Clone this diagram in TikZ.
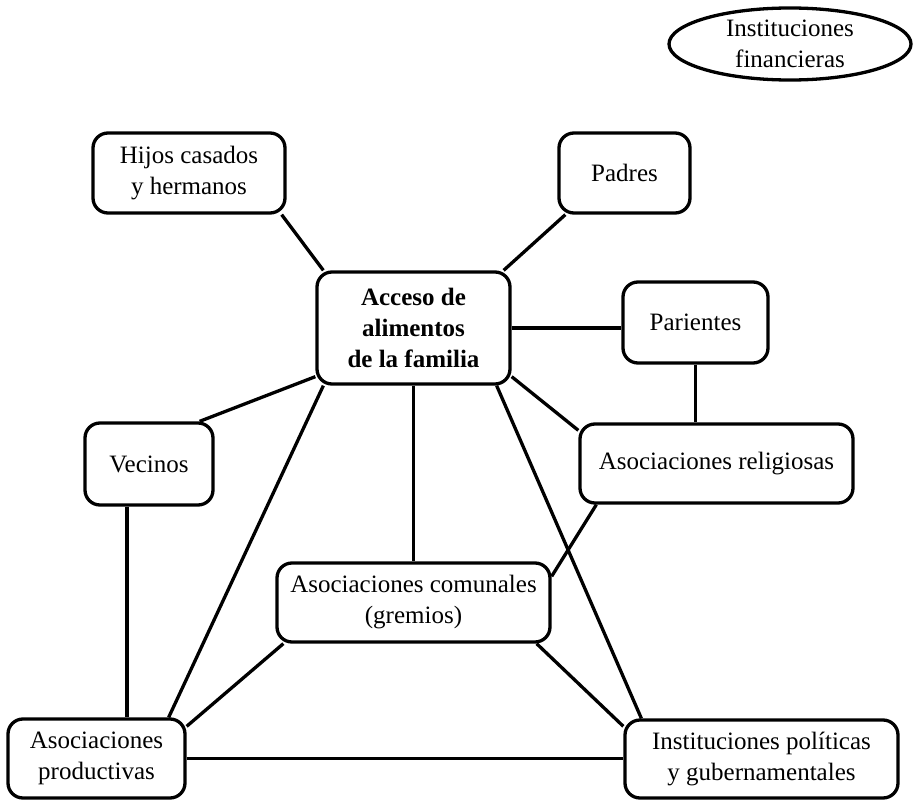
\documentclass[tikz,border=0pt]{standalone}
\usepackage{fontspec}
\setmainfont{Liberation Serif}
\usetikzlibrary{shapes.geometric,calc}
\begin{document}
\begin{tikzpicture}[x=1pt,y=-1pt,
  box/.style={draw, line width=3.3pt, rounded corners=15pt, align=center, inner sep=0pt,
    font=\fontsize{25}{31}\selectfont},
  link/.style={line width=3.3pt}]
\useasboundingbox (0,0) rectangle (924,800);
\node[draw, line width=3.3pt, ellipse, inner sep=0pt, minimum width=242pt, minimum height=72pt,
  align=center, font=\fontsize{25}{31}\selectfont] (fin) at (790,44) {Instituciones\\financieras};
\node[box, minimum width=192pt, minimum height=80pt] (hijos) at (189,173) {Hijos casados\\y hermanos};
\node[box, minimum width=131pt, minimum height=80pt] (padres) at (624.5,173) {Padres};
\node[box, minimum width=193pt, minimum height=112pt, font=\fontsize{25}{31}\selectfont\bfseries] (acceso) at (413.5,328) {Acceso de\\alimentos\\de la familia};
\node[box, minimum width=145pt, minimum height=81pt] (parientes) at (695.5,322.5) {Parientes};
\node[box, minimum width=128pt, minimum height=82pt] (vecinos) at (149,464) {Vecinos};
\node[box, minimum width=273pt, minimum height=79pt] (religiosas) at (716.5,463.5) {Asociaciones religiosas};
\node[box, minimum width=273pt, minimum height=79pt] (comunales) at (413.5,602.5) {Asociaciones comunales\\(gremios)};
\node[box, minimum width=177pt, minimum height=79pt] (productivas) at (96.5,758.5) {Asociaciones\\productivas};
\node[box, minimum width=273pt, minimum height=78pt] (politicas) at (761.5,759) {Instituciones políticas\\y gubernamentales};

\draw[link] ([xshift=-5pt]hijos.south east) -- ([xshift=8pt]acceso.north west);
\draw[link] ([xshift=8pt]padres.south west) -- ([xshift=-8pt]acceso.north east);
\draw[link] (acceso.east) -- (acceso.east -| parientes.west);
\draw[link] (parientes.south) -- (parientes.south |- religiosas.north);
\draw[link] ([yshift=9pt]acceso.south east) -- ([yshift=-8pt]religiosas.north west);
\draw[link] ([yshift=9pt]acceso.south west) -- ([xshift=-15pt]vecinos.north east);
\draw[link] ([xshift=-22pt]vecinos.south) -- ([xshift=-22pt]vecinos.south |- productivas.north);
\draw[link] ([xshift=8pt]acceso.south west) -- ([xshift=-18pt]productivas.north east);
\draw[link] (acceso.south) -- (comunales.north);
\draw[link] ([xshift=-15pt]acceso.south east) -- ([xshift=18pt]politicas.north west);
\draw[link] ([xshift=18pt]religiosas.south west) -- ([yshift=-15pt]comunales.north east);
\draw[link] ([xshift=-15pt]comunales.south east) -- ([yshift=-8pt]politicas.north west);
\draw[link] ([xshift=8pt]comunales.south west) -- ([yshift=-9pt]productivas.north east);
\draw[link] (productivas.east) -- (productivas.east -| politicas.west);
\end{tikzpicture}
\end{document}
